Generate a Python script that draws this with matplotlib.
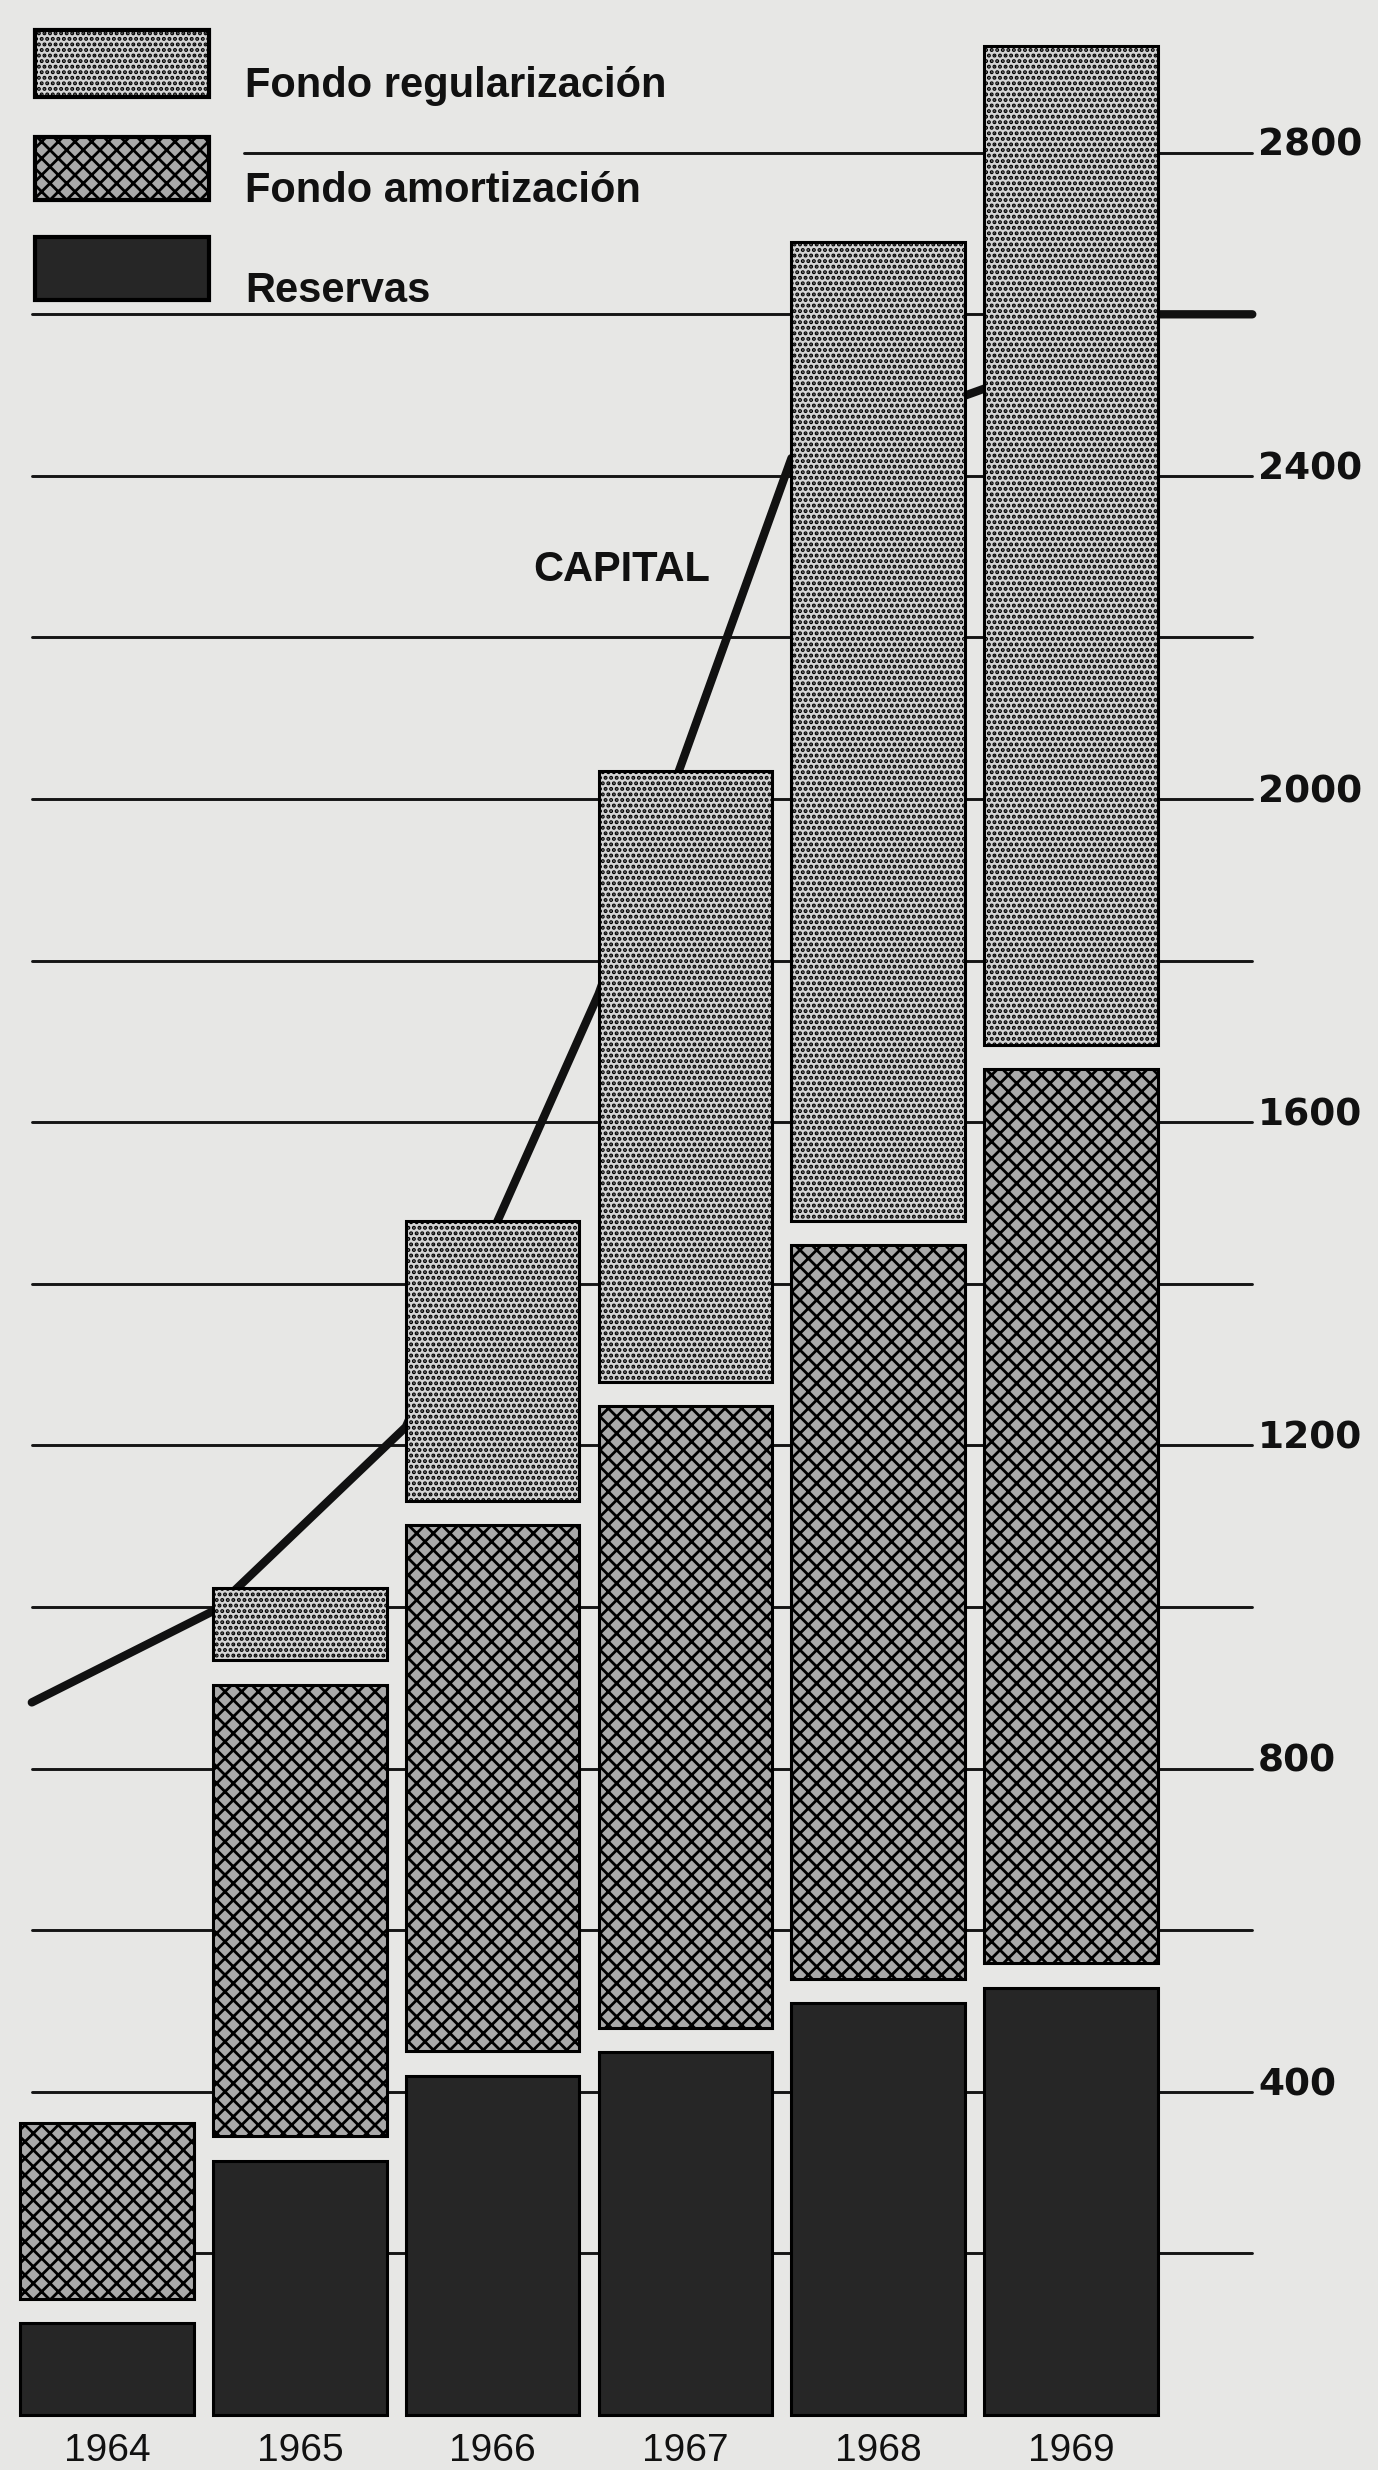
import numpy as np
import matplotlib
matplotlib.use("Agg")
import matplotlib.pyplot as plt
from matplotlib.patches import Rectangle
from matplotlib import font_manager

# ---------------- data ----------------
years = ["1964", "1965", "1966", "1967", "1968", "1969"]
reservas = [114, 315, 420, 449, 510, 529]
fondo_amortizacion = [218, 559, 651, 770, 908, 1107]
fondo_regularizacion = [0, 90, 347, 756, 1212, 1236]
# capital at the start of each year 1964 ... 1970
capital = [882, 995, 1223, 1759, 2422, 2508, 2600]
grid_values = list(range(200, 2801, 200))
tick_values = [400, 800, 1200, 1600, 2000, 2400, 2800]
legend_labels = ["Fondo regularización", "Fondo amortización", "Reservas"]
capital_label = "CAPITAL"

# ---------------- style ----------------
BG = "#e7e7e5"
C_RES = "#262626"
C_AMO = "#a9a9a9"
C_REG = "#d4d4d4"
plt.rcParams["hatch.linewidth"] = 2.0

avail = {f.name for f in font_manager.fontManager.ttflist}
narrow = "Liberation Sans Narrow" if "Liberation Sans Narrow" in avail else "Liberation Sans"

fig = plt.figure(figsize=(13.78, 24.70), dpi=100, facecolor=BG)
ax = fig.add_axes([0, 0, 1, 1])
ax.set_facecolor(BG)
ax.axis("off")
ax.set_xlim(-0.555, 6.592)
ax.set_ylim(-68, 2989)

x = np.arange(len(years))
w = 0.9
gap = 30
grid_left = -0.39
tick_right = 5.94

# horizontal rules (behind bars)
for v in grid_values:
    x0 = 0.71 if v == 2800 else grid_left
    ax.plot([x0, tick_right], [v, v], color="#151515", lw=2.1,
            solid_capstyle="round", zorder=1)

# capital line (behind bars)
cap_x = list(np.arange(len(capital)) - 0.45)
cap_x[0] = grid_left
cap_x[-1] = x[-1] + w / 2
cap_x = cap_x + [tick_right]
cap_y = capital + [capital[-1]]
ax.plot(cap_x, cap_y, color="#111111", lw=6.0, solid_capstyle="round",
        solid_joinstyle="round", zorder=2)

# stacked bars with white gaps
res = np.array(reservas, float)
amo = np.array(fondo_amortizacion, float)
reg = np.array(fondo_regularizacion, float)
ax.bar(x, res, w, bottom=0, facecolor=C_RES, edgecolor="black", lw=2.2, zorder=3)
b_amo = res + gap
ax.bar(x, amo, w, bottom=b_amo, facecolor=C_AMO, edgecolor="black", hatch="xx",
       lw=2.2, zorder=3)
b_reg = b_amo + amo + gap
m = reg > 0
ax.bar(x[m], reg[m], w, bottom=b_reg[m], facecolor=C_REG, edgecolor="black",
       hatch="...", lw=2.2, zorder=3)

# right axis labels
for v in tick_values:
    ax.text(5.97, v - 4, str(v), ha="left", va="baseline", fontsize=27,
            fontweight="bold", family="DejaVu Sans", color="#111111", zorder=4)

# year labels
for xi, yr in zip(x, years):
    ax.text(xi, -45, yr, ha="center", va="center", fontsize=28,
            family=[narrow, "DejaVu Sans"], color="#111111")

# capital label
ax.text(2.67, 2270, capital_label, ha="center", va="baseline", fontsize=30,
        fontweight="bold", family=["Liberation Sans", "DejaVu Sans"], color="#111111")

# legend (figure coordinates)
W, H = 1378.0, 2470.0
leg_rows = [(30, 97), (137, 200), (237, 300)]
leg_style = [dict(facecolor=C_REG, hatch="..."),
             dict(facecolor=C_AMO, hatch="xx"),
             dict(facecolor=C_RES, hatch=None)]
baselines = [97, 202, 302]
for (t, b), st, lab, bl in zip(leg_rows, leg_style, legend_labels, baselines):
    r = Rectangle((35 / W, 1 - b / H), 174 / W, (b - t) / H, transform=fig.transFigure,
                  edgecolor="black", lw=3, zorder=5, **st)
    fig.add_artist(r)
    fig.text(245 / W, 1 - bl / H, lab, ha="left", va="baseline", fontsize=30,
             fontweight="bold", family=["Liberation Sans", "DejaVu Sans"], color="#111111")

fig.savefig("out.png", dpi=100, facecolor=BG)
